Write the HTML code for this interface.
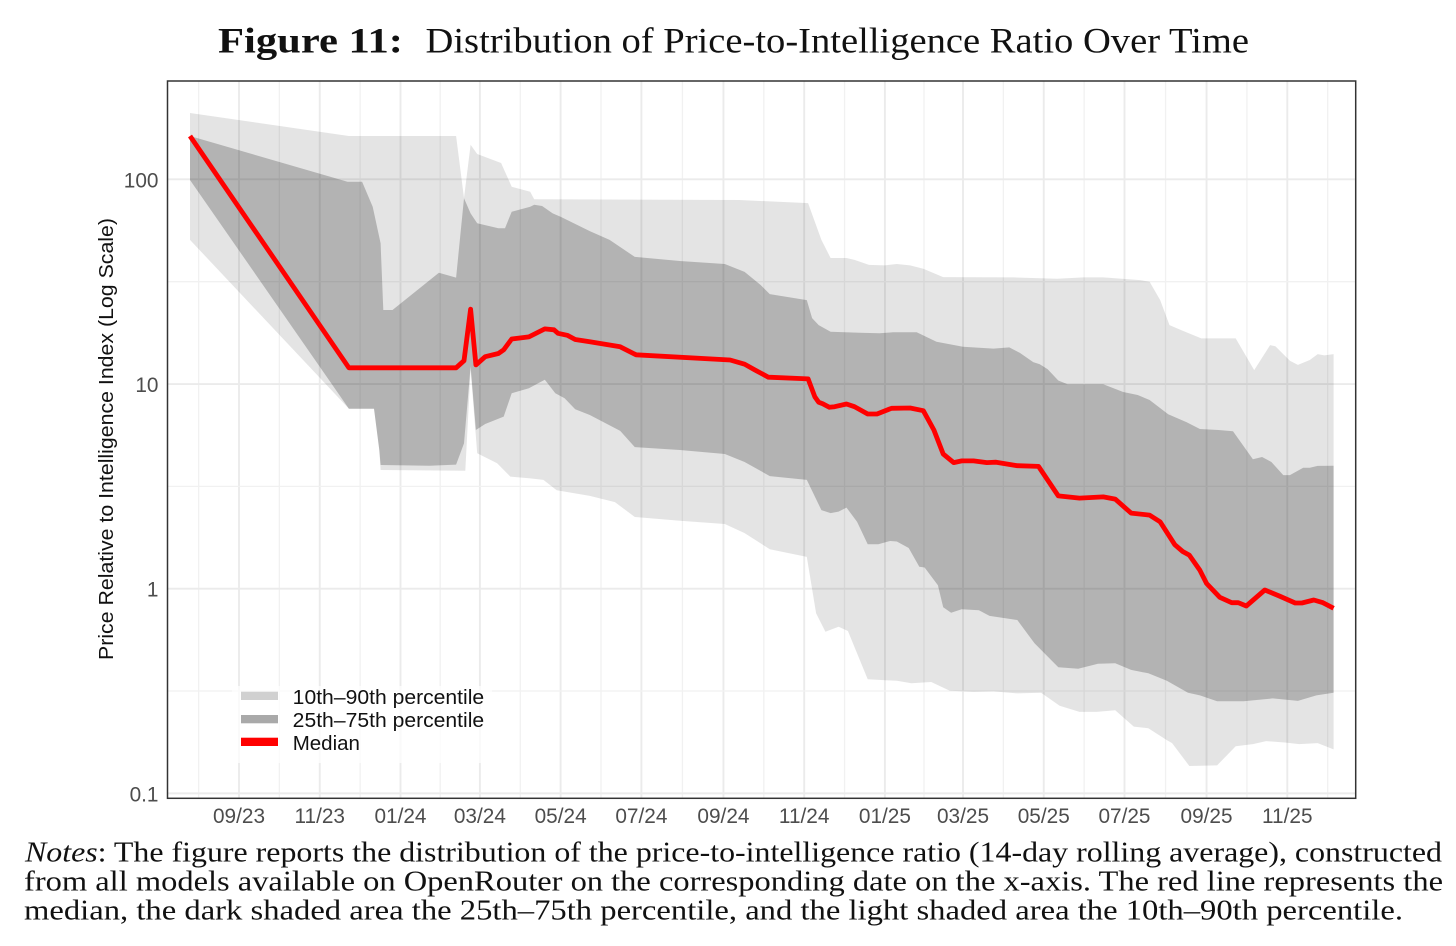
<!DOCTYPE html>
<html lang="en">
<head>
<meta charset="utf-8">
<title>Figure 11: Distribution of Price-to-Intelligence Ratio Over Time</title>
<style>
html,body{margin:0;padding:0;background:#fff;width:1456px;height:946px;overflow:hidden}
svg{display:block}
.sans{font-family:"Liberation Sans",Arial,sans-serif}
.serif{font-family:"Liberation Serif","Times New Roman",serif}
</style>
</head>
<body>
<svg id="figure" xmlns="http://www.w3.org/2000/svg" width="1456" height="946" viewBox="0 0 1456 946">
  <rect x="0" y="0" width="1456" height="946" fill="#fff"/>
  <text class="serif" x="218" y="52.7" font-size="36" font-weight="700" fill="#111" textLength="185" lengthAdjust="spacingAndGlyphs">Figure 11:</text>
  <text class="serif" x="425.5" y="52.7" font-size="36" fill="#111" textLength="823.5" lengthAdjust="spacingAndGlyphs">Distribution of Price-to-Intelligence Ratio Over Time</text>
  <g id="grid"></g>
  <g id="bands"></g>
  <g id="medianGroup"></g>
  <rect x="232" y="686" width="260" height="77" fill="#fff" fill-opacity="0.72"/>
  <g class="sans" font-size="20.5" fill="#111">
    <rect x="241" y="691.7" width="37" height="8.3" fill="#d0d0d0"/>
    <text x="292.7" y="704" textLength="191.5" lengthAdjust="spacingAndGlyphs">10th–90th percentile</text>
    <rect x="241" y="715" width="37" height="8.3" fill="#a9a9a9"/>
    <text x="292.7" y="727" textLength="191.5" lengthAdjust="spacingAndGlyphs">25th–75th percentile</text>
    <rect x="241" y="737.7" width="37" height="8.3" fill="#ff0000"/>
    <text x="292.7" y="750">Median</text>
  </g>
  <rect x="167.5" y="81" width="1188.2" height="717.3" fill="none" stroke="#333" stroke-width="1.5"/>
  <g id="xTicks" class="sans" font-size="20.8" fill="#4d4d4d" text-anchor="middle"></g>
  <g id="yTicks" class="sans" font-size="20.8" fill="#4d4d4d" text-anchor="end"></g>
  <text class="sans" font-size="20" fill="#111" text-anchor="middle" transform="translate(113 439) rotate(-90)" textLength="442" lengthAdjust="spacingAndGlyphs">Price Relative to Intelligence Index (Log Scale)</text>
  <g class="serif" font-size="28" fill="#111">
    <text x="25" y="861.5" textLength="1417" lengthAdjust="spacingAndGlyphs"><tspan font-style="italic">Notes</tspan>: The figure reports the distribution of the price-to-intelligence ratio (14-day rolling average), constructed</text>
    <text x="24" y="890.7" textLength="1419" lengthAdjust="spacingAndGlyphs">from all models available on OpenRouter on the corresponding date on the x-axis. The red line represents the</text>
    <text x="24" y="919.3" textLength="1379" lengthAdjust="spacingAndGlyphs">median, the dark shaded area the 25th–75th percentile, and the light shaded area the 10th–90th percentile.</text>
  </g>
</svg>
<script>
/* Dates are days since 2023-09-01; values are price-to-intelligence ratios. */
const xTickLabels = ["09/23","11/23","01/24","03/24","05/24","07/24","09/24","11/24","01/25","03/25","05/25","07/25","09/25","11/25"];
const yTickValues = [100,10,1,0.1];
const yTickLabels = ["100","10","1","0.1"];

const p90Days = [-37,83,164,170,175,180,198,201,206,220,223,378,430,440,447,459,465,476,488,497,507,517,532,585,618,638,653,681,688,696,703,713,727,753,767,779,783,794,800,809,815,820,827];
const p90Values = [211,162.8,162.8,81.1,147.7,133,120.2,109,92.1,87.0,79.9,79.3,76.6,50.6,41.3,41.3,40.4,38.2,38.0,38.6,38.0,36.6,33.3,33.2,32.7,33.2,33.2,32.2,31.6,25.7,19.4,18.2,16.7,16.7,11.7,15.5,15.3,13.0,12.4,13.1,14.0,13.8,14.0];

const p75Days = [-37,82,93,101,107,109,116,151,164,170,175,180,196,201,206,220,223,229,237,243,265,280,299,333,367,382,394,401,429,433,438,447,469,484,494,512,527,547,570,582,590,600,605,611,619,626,653,668,679,688,702,716,726,740,751,766,773,780,789,794,804,809,815,827];
const p75Values = [162.8,97.4,97.4,73.5,48.7,23.0,23.0,35.0,33.1,80.8,68.2,61.0,57.7,57.7,69.5,73.5,75.2,74.1,68.2,65.7,55.9,50.6,41.8,39.9,38.6,35.3,30.5,27.5,25.7,21.0,19.4,18.0,17.8,17.7,17.9,17.9,16.1,15.2,14.9,15.1,14.2,12.8,12.5,11.8,10.4,9.97,9.97,9.14,8.84,8.36,7.11,6.50,6.03,5.96,5.88,4.29,4.40,4.16,3.59,3.59,3.90,3.90,3.98,3.99];

const medianDays = [-37,83,164,170,175,179,186,196,200,206,219,231,238,241,248,254,265,288,300,371,382,390,400,430,435,438,441,446,450,459,465,475,482,493,507,517,525,532,540,546,555,565,572,588,604,619,635,653,662,674,688,696,707,713,718,726,731,741,750,755,761,775,786,798,803,812,819,827];
const medianValues = [162.8,12.0,12.0,13.0,23.2,12.4,13.6,14.1,14.7,16.6,17.0,18.6,18.4,17.7,17.3,16.5,16.1,15.2,13.9,13.1,12.5,11.7,10.8,10.6,8.67,8.14,8.01,7.70,7.75,7.99,7.75,7.14,7.14,7.61,7.64,7.41,5.96,4.55,4.13,4.21,4.21,4.13,4.15,3.99,3.96,2.84,2.77,2.81,2.74,2.34,2.29,2.12,1.64,1.52,1.46,1.23,1.06,0.908,0.854,0.854,0.823,0.985,0.921,0.851,0.851,0.881,0.854,0.802];

const p25Days = [-37,83,102,106,107,144,164,170,175,179,186,200,206,219,231,239,246,254,265,288,299,333,367,382,401,429,440,447,453,459,467,475,483,492,497,506,514,518,528,532,538,546,559,567,588,601,619,634,649,662,674,687,701,717,726,739,759,781,800,814,827];
const p25Values = [99.3,7.58,7.58,4.76,4.02,3.99,4.04,5.13,12.2,5.96,6.38,6.93,9.01,9.53,10.5,9.01,8.52,7.53,7.06,5.90,4.92,4.76,4.55,4.16,3.55,3.40,2.42,2.34,2.38,2.49,2.12,1.65,1.65,1.71,1.70,1.58,1.28,1.27,1.04,0.811,0.763,0.793,0.784,0.736,0.703,0.541,0.413,0.406,0.430,0.432,0.401,0.386,0.355,0.310,0.301,0.282,0.282,0.291,0.283,0.301,0.310];

const p10Days = [-37,83,102,106,107,171,175,180,195,205,220,230,240,265,284,299,333,367,382,401,429,436,443,453,460,475,497,508,523,537,555,570,588,606,620,635,648,662,676,687,701,705,718,739,753,766,776,791,801,815,827];
const p10Values = [50.6,7.58,7.58,4.76,3.80,3.77,11.7,4.59,4.10,3.53,3.46,3.40,3.03,2.84,2.65,2.24,2.15,2.07,1.87,1.56,1.43,0.758,0.616,0.652,0.621,0.361,0.355,0.345,0.350,0.317,0.313,0.315,0.308,0.310,0.268,0.250,0.250,0.255,0.212,0.208,0.182,0.176,0.136,0.137,0.170,0.174,0.180,0.177,0.174,0.176,0.164];

const SVG_NS = "http://www.w3.org/2000/svg";
const panelLeft = 167.5, panelRight = 1355.7, panelTop = 81, panelBottom = 798.3;
const xOrigin = 239, pxPerDay = 1.3236;
const yOne = 588.7, pxPerDecade = 204.67;

function xScale(day){ return xOrigin + pxPerDay * day; }
function yScale(value){ return yOne - pxPerDecade * Math.log10(value); }
function labelToDay(label){
  const month = parseInt(label.slice(0,2),10), year = 2000 + parseInt(label.slice(3),10);
  return (Date.UTC(year,month-1,1) - Date.UTC(2023,8,1)) / 86400000;
}
function make(tag, parent){
  const el = document.createElementNS(SVG_NS, tag);
  parent.appendChild(el);
  return el;
}
function seriesPoints(days, values){
  return days.map(function(d,i){ return xScale(d).toFixed(1) + "," + yScale(values[i]).toFixed(1); });
}
function bandPoints(topDays, topValues, bottomDays, bottomValues){
  return seriesPoints(topDays, topValues).concat(seriesPoints(bottomDays, bottomValues).reverse()).join(" ");
}
function gridLine(x1,y1,x2,y2,isMajor){
  const line = make("line", document.getElementById("grid"));
  line.setAttribute("x1",x1); line.setAttribute("y1",y1);
  line.setAttribute("x2",x2); line.setAttribute("y2",y2);
  line.setAttribute("stroke", isMajor ? "#ebebeb" : "#f1f1f1");
  line.setAttribute("stroke-width", isMajor ? 1.9 : 1.3);
  
  
}

/* grid: minors at midpoints between breaks */
const tickDays = xTickLabels.map(labelToDay);
tickDays.forEach(function(d,i){
  const px = xScale(d);
  gridLine(px,panelTop,px,panelBottom,true);
  const next = i < tickDays.length-1 ? tickDays[i+1] : d + (d - tickDays[i-1]);
  const minorX = xScale((d+next)/2);
  if (minorX < panelRight) gridLine(minorX,panelTop,minorX,panelBottom,false);
  if (i === 0) {
    const beforeX = xScale(d - (tickDays[1]-d)/2);
    gridLine(beforeX,panelTop,beforeX,panelBottom,false);
  }
});
yTickValues.forEach(function(v,i){
  const py = yScale(v);
  gridLine(panelLeft,py,panelRight,py,true);
  if (i < yTickValues.length-1) {
    const minorY = yScale(Math.sqrt(v*yTickValues[i+1]));
    gridLine(panelLeft,minorY,panelRight,minorY,false);
  }
});

/* bands */
const outerBand = make("polygon", document.getElementById("bands"));
outerBand.setAttribute("points", bandPoints(p90Days,p90Values,p10Days,p10Values));
outerBand.setAttribute("fill","#000");
outerBand.setAttribute("fill-opacity","0.105");



const innerBand = make("polygon", document.getElementById("bands"));
innerBand.setAttribute("points", bandPoints(p75Days,p75Values,p25Days,p25Values));
innerBand.setAttribute("fill","#000");
innerBand.setAttribute("fill-opacity","0.21");



/* median */
const medianLine = make("polyline", document.getElementById("medianGroup"));
medianLine.setAttribute("points", seriesPoints(medianDays,medianValues).join(" "));
medianLine.setAttribute("fill","none");
medianLine.setAttribute("stroke","#ff0000");
medianLine.setAttribute("stroke-width","4.8");
medianLine.setAttribute("stroke-linejoin","round");



/* tick labels */
xTickLabels.forEach(function(label,i){
  const t = make("text", document.getElementById("xTicks"));
  t.setAttribute("x", xScale(tickDays[i]));
  t.setAttribute("y", 823);
  t.textContent = label;
  
  
});
yTickValues.forEach(function(v,i){
  const t = make("text", document.getElementById("yTicks"));
  t.setAttribute("x", 158.5);
  t.setAttribute("y", yScale(v) + 8);
  t.textContent = yTickLabels[i];
  
  
});
</script>
</body>
</html>
